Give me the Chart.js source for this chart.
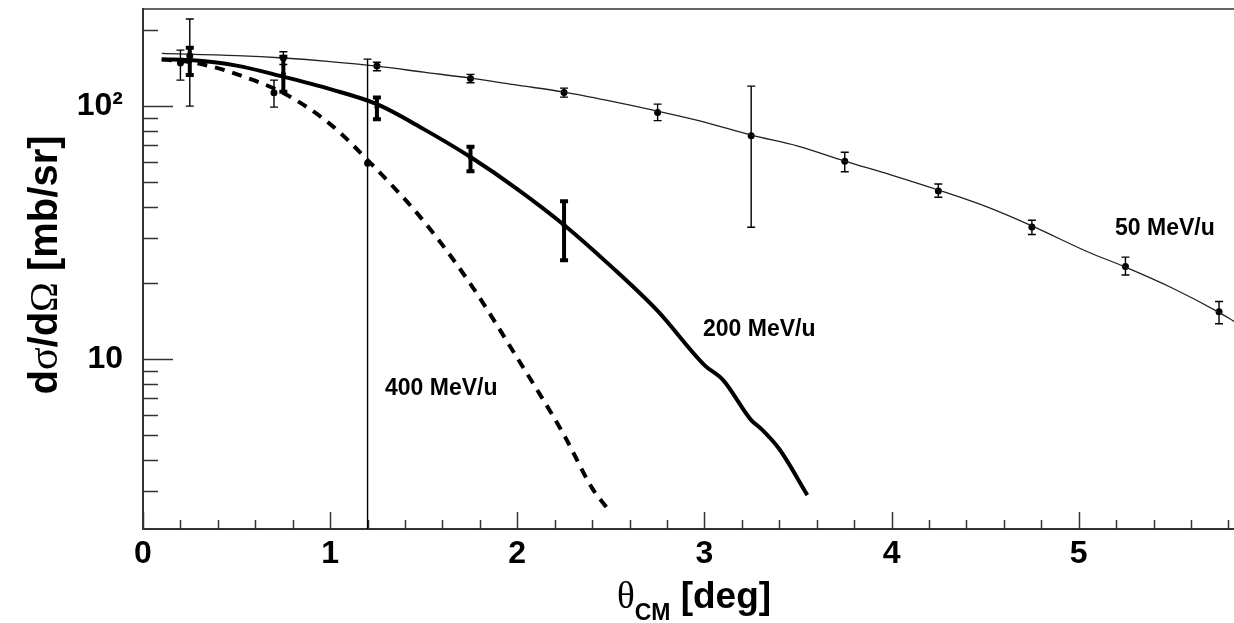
<!DOCTYPE html>
<html lang="en">
<head>
<meta charset="UTF-8">
<title>Differential cross section</title>
<style>
    html, body {
        margin: 0;
        padding: 0;
        background: #fff;
    }
    #wrap {
        width: 1234px;
        height: 623px;
    }
</style>
</head>
<body>
<div id="wrap"><canvas id="xsChart"></canvas></div>
<script src="https://cdn.jsdelivr.net/npm/chart.js"></script>
<script>
    // theory curves (theta in deg, dsigma/dOmega in mb/sr)
    const curve50X = [0.1, 0.5, 0.75, 1.0, 1.25, 1.5, 1.75, 2.0, 2.25, 2.5, 2.75, 3.0, 3.25, 3.5, 3.75, 4.0, 4.25, 4.5, 4.75, 5.05, 5.25, 5.5, 5.75, 5.83];
    const curve50Y = [161.5, 158.3, 154.9, 150.0, 143.9, 136.2, 129.0, 121.0, 113.6, 104.6, 95.5, 86.5, 76.8, 69.5, 60.6, 53.4, 46.6, 40.2, 33.6, 26.5, 23.1, 19.1, 15.3, 14.1];

    const curve200X = [0.1, 0.25, 0.5, 0.75, 1.0, 1.25, 1.5, 1.75, 2.0, 2.25, 2.5, 2.75, 3.0, 3.1, 3.25, 3.3, 3.4, 3.55];
    const curve200Y = [153.0, 152.0, 144.5, 130.6, 116.7, 101.8, 81.1, 62.9, 47.0, 33.9, 23.3, 15.5, 9.47, 8.26, 5.74, 5.33, 4.41, 2.90];

    const curve400X = [0.1, 0.25, 0.4, 0.5, 0.75, 1.0, 1.2, 1.5, 1.75, 2.0, 2.25, 2.4, 2.48];
    const curve400Y = [153.0, 149.3, 141.3, 133.8, 112.6, 84.9, 61.2, 35.1, 19.8, 10.1, 5.01, 3.09, 2.58];

    // measured points with error bars
    const data50X = [0.25, 0.75, 1.25, 1.75, 2.25, 2.75, 3.25, 3.75, 4.25, 4.75, 5.25, 5.75];
    const data50Y = [158, 155, 143.9, 128.7, 113.3, 94.4, 76.3, 60.6, 46.2, 33.3, 23.2, 15.4];
    const data50Lo = [100, 146, 138, 123.6, 108.5, 87.6, 33.2, 55.0, 43.6, 31.1, 21.5, 13.8];
    const data50Hi = [221, 164, 149, 133.5, 117.8, 101.8, 119.9, 65.7, 49.2, 35.4, 25.3, 16.9];

    const data200X = [0.25, 0.75, 1.25, 1.75, 2.25];
    const data200Y = [150.6, 133.8, 99.1, 62.7, 33.9];
    const data200Lo = [132.6, 113.9, 88.8, 55.3, 24.6];
    const data200Hi = [170.0, 156.6, 108.2, 69.0, 42.1];

    const data400X = [0.2, 0.7, 1.2];
    const data400Y = [147.9, 112.9, 59.5];
    const data400Lo = [126.7, 99.1, 1];
    const data400Hi = [166.4, 126.7, 153.3];

    const xTicks = [0, 1, 2, 3, 4, 5];
    const yTicks = [10, 100];
    const yTickLabels = ['10', '10²'];
    const yMinorTicks = [3, 4, 5, 6, 7, 8, 9, 20, 30, 40, 50, 60, 70, 80, 90, 200];

    const SANS = "'Liberation Sans', Arial, sans-serif";
    const SERIF = "'Liberation Serif', 'Times New Roman', serif";

    function pts(xs, ys) {
        return xs.map((x, i) => ({ x: x, y: ys[i] }));
    }

    function drawRuns(ctx, runs, x, y) {
        let total = 0;
        runs.forEach(r => { ctx.font = r.font; total += ctx.measureText(r.text).width; });
        let cx = x - total / 2;
        runs.forEach(r => {
            ctx.font = r.font;
            ctx.fillText(r.text, cx, y + (r.dy || 0));
            cx += ctx.measureText(r.text).width;
        });
    }

    const rootStyle = {
        id: 'rootStyle',
        beforeDatasetsDraw(chart) {
            const ctx = chart.ctx;
            const area = chart.chartArea;
            const xs = chart.scales.x;
            const ys = chart.scales.y;
            ctx.save();
            ctx.strokeStyle = '#333';
            ctx.lineWidth = 1.5;
            // top frame line
            ctx.beginPath();
            ctx.moveTo(area.left, area.top);
            ctx.lineTo(area.right, area.top);
            ctx.stroke();
            // x ticks inside the frame
            for (let v = 0; v <= 5.81; v += 0.2) {
                const px = Math.round(xs.getPixelForValue(v)) + 0.5;
                const major = Math.abs(v - Math.round(v)) < 1e-6;
                ctx.beginPath();
                ctx.moveTo(px, area.bottom);
                ctx.lineTo(px, area.bottom - (major ? 17 : 9));
                ctx.stroke();
            }
            // y ticks inside the frame
            yTicks.concat(yMinorTicks).forEach(v => {
                const py = Math.round(ys.getPixelForValue(v)) + 0.5;
                const major = yTicks.includes(v);
                ctx.beginPath();
                ctx.moveTo(area.left, py);
                ctx.lineTo(area.left + (major ? 30 : 15), py);
                ctx.stroke();
            });
            ctx.restore();
        },
        afterDatasetsDraw(chart) {
            const ctx = chart.ctx;
            const area = chart.chartArea;
            const xs = chart.scales.x;
            const ys = chart.scales.y;
            ctx.save();
            ctx.beginPath();
            ctx.rect(area.left, area.top, area.right - area.left, area.bottom - area.top);
            ctx.clip();
            const bars = [
                { x: data50X, lo: data50Lo, hi: data50Hi, w: 1.4, cap: 4, capW: 1.4 },
                { x: data400X, lo: data400Lo, hi: data400Hi, w: 1.4, cap: 4, capW: 1.4 },
                { x: data200X, lo: data200Lo, hi: data200Hi, w: 4, cap: 4, capW: 4 }
            ];
            ctx.strokeStyle = '#000';
            bars.forEach(b => {
                b.x.forEach((xv, i) => {
                    const px = xs.getPixelForValue(xv);
                    const top = ys.getPixelForValue(b.hi[i]);
                    const bot = Math.min(ys.getPixelForValue(b.lo[i]), area.bottom + 5);
                    ctx.lineWidth = b.w;
                    ctx.beginPath();
                    ctx.moveTo(px, top);
                    ctx.lineTo(px, bot);
                    ctx.stroke();
                    ctx.lineWidth = b.capW;
                    ctx.beginPath();
                    ctx.moveTo(px - b.cap, top);
                    ctx.lineTo(px + b.cap, top);
                    ctx.moveTo(px - b.cap, bot);
                    ctx.lineTo(px + b.cap, bot);
                    ctx.stroke();
                });
            });
            ctx.restore();

            // curve labels
            ctx.save();
            ctx.fillStyle = '#000';
            ctx.textBaseline = 'middle';
            ctx.font = 'bold 23px ' + SANS;
            ctx.fillText('50 MeV/u', 1115, 229);
            ctx.fillText('200 MeV/u', 703, 330);
            ctx.fillText('400 MeV/u', 385, 389);

            // axis titles
            ctx.textBaseline = 'alphabetic';
            drawRuns(ctx, [
                { text: 'θ', font: '37px ' + SERIF },
                { text: 'CM', font: 'bold 23px ' + SANS, dy: 12 },
                { text: ' [deg]', font: 'bold 37px ' + SANS }
            ], 694, 608);

            ctx.translate(57, 265);
            ctx.rotate(-Math.PI / 2);
            drawRuns(ctx, [
                { text: 'd', font: 'bold 40px ' + SANS },
                { text: 'σ', font: '42px ' + SERIF },
                { text: '/d', font: 'bold 40px ' + SANS },
                { text: 'Ω', font: '40px ' + SERIF },
                { text: ' [mb/sr]', font: 'bold 40px ' + SANS }
            ], 0, 0);
            ctx.restore();
        }
    };

    const ctx = document.getElementById('xsChart').getContext('2d');
    new Chart(ctx, {
        type: 'scatter',
        data: {
            datasets: [
                { data: pts(curve50X, curve50Y), showLine: true, borderColor: '#222', borderWidth: 1.3, pointRadius: 0, cubicInterpolationMode: 'monotone' },
                { data: pts(curve200X, curve200Y), showLine: true, borderColor: '#000', borderWidth: 4, pointRadius: 0, cubicInterpolationMode: 'monotone' },
                { data: pts(curve400X, curve400Y), showLine: true, borderColor: '#000', borderWidth: 4, borderDash: [10, 8], pointRadius: 0, cubicInterpolationMode: 'monotone' },
                { data: pts(data50X, data50Y), pointRadius: 3.5, backgroundColor: '#000', borderColor: '#000', borderWidth: 0 },
                { data: pts(data200X, data200Y), pointRadius: 2.5, backgroundColor: '#000', borderColor: '#000', borderWidth: 0 },
                { data: pts(data400X, data400Y), pointRadius: 3.5, backgroundColor: '#000', borderColor: '#000', borderWidth: 0 }
            ]
        },
        options: {
            responsive: true,
            maintainAspectRatio: false,
            animation: false,
            layout: { autoPadding: false, padding: { top: 9, right: 0, bottom: 0, left: 0 } },
            plugins: {
                legend: { display: false },
                tooltip: { enabled: false }
            },
            scales: {
                x: {
                    type: 'linear',
                    min: 0,
                    max: 5.83,
                    afterBuildTicks: s => { s.ticks = xTicks.map(v => ({ value: v })); },
                    afterFit: s => { s.height = 94; s.paddingLeft = 0; s.paddingRight = 0; },
                    grid: { display: false },
                    border: { display: true, color: '#333', width: 2 },
                    ticks: {
                        color: '#000',
                        font: { family: SANS, size: 32, weight: 'bold' },
                        padding: -2,
                        maxRotation: 0,
                        autoSkip: false
                    }
                },
                y: {
                    type: 'logarithmic',
                    min: 2.13,
                    max: 242,
                    afterBuildTicks: s => { s.ticks = yTicks.map(v => ({ value: v })); },
                    afterFit: s => { s.width = 143; s.paddingTop = 0; s.paddingBottom = 0; },
                    grid: { display: false },
                    border: { display: true, color: '#333', width: 2 },
                    ticks: {
                        color: '#000',
                        font: { family: SANS, size: 32, weight: 'bold' },
                        padding: 12,
                        callback: v => yTickLabels[yTicks.indexOf(v)]
                    }
                }
            }
        },
        plugins: [rootStyle]
    });
</script>
</body>
</html>
